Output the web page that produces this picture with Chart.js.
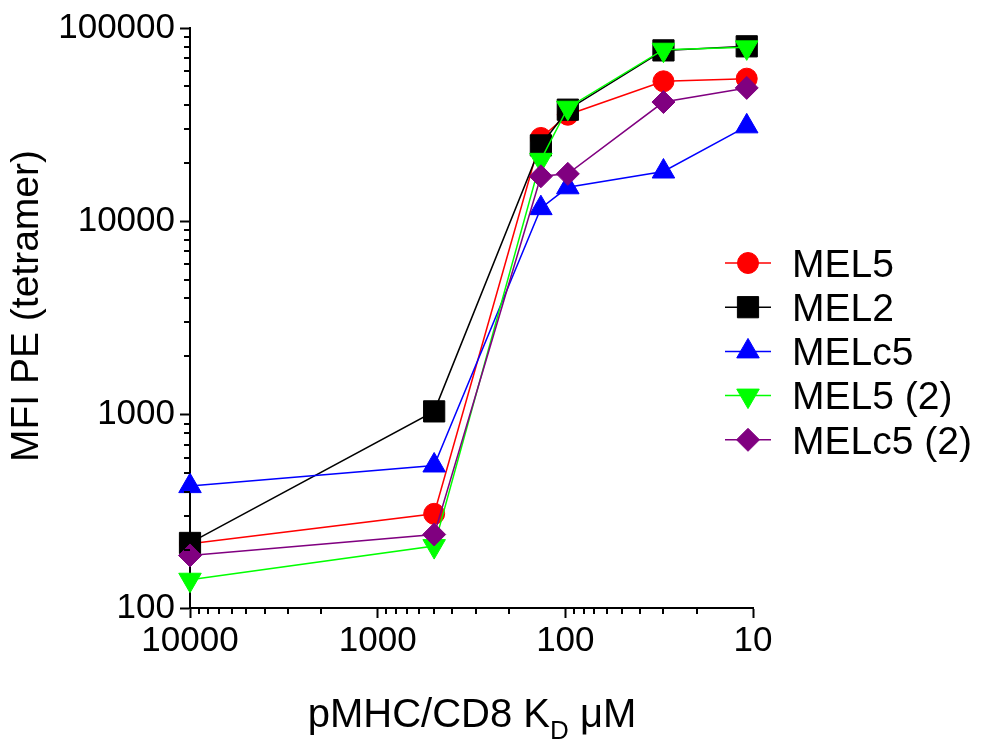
<!DOCTYPE html>
<html>
<head>
<meta charset="utf-8">
<title>pMHC/CD8 KD vs tetramer MFI</title>
<script src="https://cdn.jsdelivr.net/npm/chart.js@4.4.1/dist/chart.umd.min.js"></script>
<style>
  html, body { margin: 0; padding: 0; background: #fff; }
  #wrap { width: 984px; height: 742px; }
</style>
</head>
<body>
<div id="wrap"><canvas id="kd-chart" width="984" height="742"></canvas></div>
<script>
// ── data ─────────────────────────────────────────────────────────────────────
const kdValues   = [10000, 500, 135, 97, 30, 10.8];           // pMHC/CD8 KD (µM)
const mel5       = [215, 307, 27000, 35600, 53000, 54700];
const mel2       = [217, 1040, 24700, 37800, 76600, 80400];
const melc5      = [427, 546, 11700, 15000, 18100, 31000];
const mel5b      = [140, 209, 20800, 38700, 77200, 79400];
const melc5b     = [187, 240, 17100, 17600, 41400, 49000];
const seriesNames = ['MEL5', 'MEL2', 'MELc5', 'MEL5 (2)', 'MELc5 (2)'];
const xTicks = [10000, 1000, 100, 10];
const yTicks = [100, 1000, 10000, 100000];

// ── look ─────────────────────────────────────────────────────────────────────
const FONT = '"Liberation Sans", Arial, sans-serif';
const styles = [
  { color: '#ff0000', pointStyle: 'circle',   radius: 10.5, rotation: 0 },
  { color: '#000000', pointStyle: 'rect',     radius: 15,   rotation: 0 },
  { color: '#0000ff', pointStyle: 'triangle', radius: 13,   rotation: 0 },
  { color: '#00ff00', pointStyle: 'triangle', radius: 13,   rotation: 180 },
  { color: '#800080', pointStyle: 'rectRot',  radius: 11.5, rotation: 0 }
];

const series = [mel5, mel2, melc5, mel5b, melc5b];
const datasets = series.map((vals, i) => ({
  label: seriesNames[i],
  data: vals.map((y, j) => ({ x: kdValues[j], y })),
  borderColor: styles[i].color,
  backgroundColor: styles[i].color,
  borderWidth: 1.5,
  pointStyle: styles[i].pointStyle,
  pointRadius: styles[i].radius,
  pointRotation: styles[i].rotation,
  pointBackgroundColor: styles[i].color,
  pointBorderColor: styles[i].color,
  pointBorderWidth: 1,
  tension: 0,
  clip: false,
  order: series.length - i        // later series drawn on top
}));

// minor log ticks (2..9 × 10^n) between the labelled decades
function minorValues(majors) {
  const lo = Math.min(...majors), hi = Math.max(...majors), out = [];
  for (let d = lo; d < hi; d *= 10)
    for (let k = 2; k <= 9; k++) out.push(k * d);
  return out;
}

const minorTicksPlugin = {
  id: 'minorTicks',
  afterDraw(chart) {
    const { ctx, chartArea: a, scales: { x, y } } = chart;
    ctx.save();
    ctx.strokeStyle = '#000';
    ctx.lineWidth = 2;
    ctx.beginPath();
    minorValues(xTicks).forEach(v => {
      const px = Math.round(x.getPixelForValue(v));
      ctx.moveTo(px, a.bottom); ctx.lineTo(px, a.bottom + 6);
    });
    minorValues(yTicks).forEach(v => {
      const py = Math.round(y.getPixelForValue(v));
      ctx.moveTo(a.left - 6, py); ctx.lineTo(a.left, py);
    });
    ctx.stroke();
    ctx.restore();
  }
};

// axis titles (x title has a subscript) and the line+marker legend
const labelsPlugin = {
  id: 'figureLabels',
  afterDraw(chart) {
    const { ctx } = chart;
    ctx.save();
    ctx.fillStyle = '#000';

    // y title
    ctx.save();
    ctx.translate(27, 306);
    ctx.rotate(-Math.PI / 2);
    ctx.font = `39px ${FONT}`;
    ctx.textAlign = 'center';
    ctx.textBaseline = 'middle';
    ctx.fillText('MFI PE (tetramer)', 0, 0);
    ctx.restore();

    // x title: pMHC/CD8 K_D µM
    const parts = [
      { t: 'pMHC/CD8 K', size: 40, dy: 0 },
      { t: 'D',          size: 26, dy: 12 },
      { t: ' \u03bcM',   size: 40, dy: 0 }
    ];
    let total = 0;
    parts.forEach(p => { ctx.font = `${p.size}px ${FONT}`; p.w = ctx.measureText(p.t).width; total += p.w; });
    let cx = 472 - total / 2;
    ctx.textAlign = 'left';
    ctx.textBaseline = 'alphabetic';
    parts.forEach(p => {
      ctx.font = `${p.size}px ${FONT}`;
      ctx.fillText(p.t, cx, 727 + p.dy);
      cx += p.w;
    });

    // legend
    const rowY = 263, rowGap = 44.2;
    chart.data.datasets.forEach((ds, i) => {
      const yy = rowY + i * rowGap;
      const s = styles[i];
      ctx.strokeStyle = s.color;
      ctx.lineWidth = 1.5;
      ctx.beginPath();
      ctx.moveTo(725, yy); ctx.lineTo(771, yy);
      ctx.stroke();
      ctx.fillStyle = s.color;
      ctx.lineWidth = 1;
      Chart.helpers.drawPoint(ctx, {
        pointStyle: s.pointStyle, radius: s.radius, rotation: s.rotation, borderWidth: 1
      }, 748, yy);
      ctx.fillStyle = '#000';
      ctx.font = `39px ${FONT}`;
      ctx.fillText(ds.label, 792, yy + 13.8);
    });
    ctx.restore();
  }
};

const axisCommon = {
  type: 'logarithmic',
  grid: { drawOnChartArea: false, drawTicks: true, tickLength: 10, tickWidth: 2, tickColor: '#000' },
  border: { display: true, color: '#000', width: 2 },
  ticks: { color: '#000', font: { family: FONT, size: 35 }, autoSkip: false, maxRotation: 0,
           callback: v => String(v) }
};

new Chart(document.getElementById('kd-chart'), {
  type: 'line',
  data: { datasets },
  options: {
    responsive: false,
    animation: false,
    devicePixelRatio: 1,
    layout: { padding: { left: 0, right: 231, top: 28, bottom: 0 } },
    plugins: { legend: { display: false }, tooltip: { enabled: false } },
    scales: {
      x: {
        ...axisCommon,
        reverse: true, min: 10, max: 10000,
        ticks: { ...axisCommon.ticks, padding: 2 },
        afterBuildTicks: s => { s.ticks = xTicks.map(v => ({ value: v })); },
        afterFit: s => { s.height = 134; }
      },
      y: {
        ...axisCommon,
        min: 100, max: 100000,
        ticks: { ...axisCommon.ticks, padding: 5 },
        afterBuildTicks: s => { s.ticks = yTicks.map(v => ({ value: v })); },
        afterFit: s => { s.width = 190; }
      }
    }
  },
  plugins: [minorTicksPlugin, labelsPlugin]
});
</script>
</body>
</html>
